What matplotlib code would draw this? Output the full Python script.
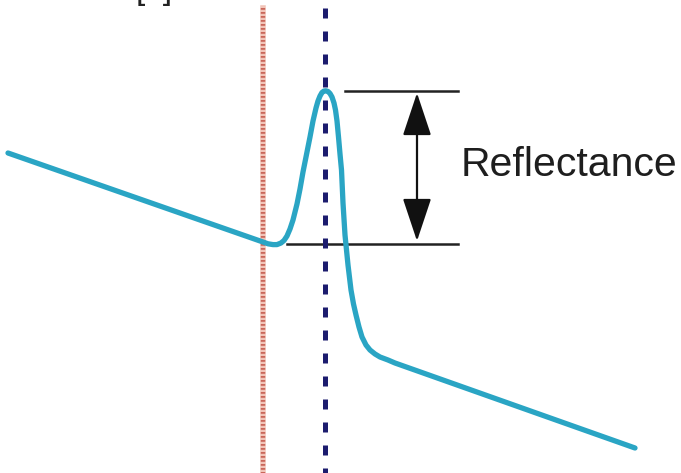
import numpy as np
import matplotlib.pyplot as plt

# curve (pixel units, y grows downward)
curve_x = [8, 263, 268, 273, 277, 281, 284, 287, 290, 293, 297, 300, 303,
           307, 310, 313, 316, 318, 320, 322, 324, 326, 328, 330, 332, 334,
           335.5, 337, 338.5, 340, 341.5, 343, 345, 346.5, 348, 351, 353.5,
           356, 359, 362, 366, 370, 375, 380, 388, 395, 635]
curve_y = [153, 242, 243.8, 244.6, 244.6, 243, 240.5, 236, 229, 220, 204,
           189, 172, 152, 137, 121, 108, 101, 96, 92.5, 91, 90.8, 91.5, 93.5,
           97, 103, 110, 121, 137, 154, 170, 203, 235, 250, 265, 290, 304,
           315, 327, 337, 345, 350, 354, 357, 360, 363, 448]

red_line_x = 263
blue_line_x = 325
top_level = 91
base_level = 244
arrow_x = 417
label = "Reflectance"
corner_note = "[1]"


def main():
    fig = plt.figure(figsize=(6.81, 4.73), dpi=100)
    ax = fig.add_axes([0, 0, 1, 1])
    ax.set_xlim(0, 681)
    ax.set_ylim(473, 0)
    ax.axis("off")

    # marker lines
    ax.plot([red_line_x, red_line_x], [8, 473], color="#f1c4b8", lw=4.0, zorder=1)
    ax.plot([red_line_x, red_line_x], [8, 473], color="#c9665a", lw=3.2,
            linestyle=(0, (0.4, 0.5)), zorder=1)
    ax.plot([blue_line_x, blue_line_x], [8, 480], color="#1c1c6e", lw=3.6,
            linestyle=(0, (2.0, 2.6)), zorder=3)

    # reflectance levels
    ax.plot([345, 458], [top_level, top_level], color="#222222", lw=1.8, zorder=2)
    ax.plot([287, 458], [base_level, base_level], color="#222222", lw=1.8, zorder=2)
    ax.annotate("", xy=(arrow_x, top_level + 2), xytext=(arrow_x, base_level - 3),
                arrowprops=dict(arrowstyle="<|-|>,head_length=2.7,head_width=0.9",
                                color="#111111", lw=1.6, shrinkA=0, shrinkB=0))

    ax.plot(curve_x, curve_y, color="#2aa5c4", lw=3.8, solid_capstyle="round",
            solid_joinstyle="round", zorder=2)

    ax.text(461, 165, label, fontsize=29.5, family="Liberation Sans",
            color="#1e1e1e", va="center", ha="left")
    ax.text(136, -1, corner_note, fontsize=24, family="Liberation Sans",
            color="#222222", va="baseline", ha="left", clip_on=False)

    fig.savefig("out.png", dpi=100)


if __name__ == "__main__":
    main()
